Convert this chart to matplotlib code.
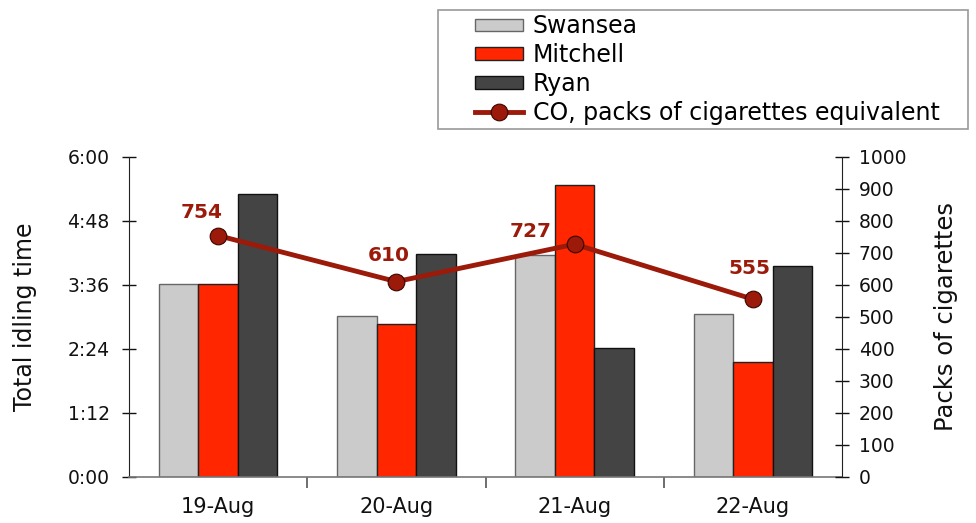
import matplotlib
matplotlib.use("Agg")
import matplotlib.pyplot as plt
import numpy as np
from matplotlib.ticker import FixedLocator, FuncFormatter
from matplotlib.patches import Rectangle

plt.rcParams['font.family'] = ['DejaVu Sans']

categories = ["19-Aug", "20-Aug", "21-Aug", "22-Aug"]
# idling time in minutes
swansea = [217, 181, 250, 183]
mitchell = [217, 172, 329, 129]
ryan = [318, 251, 145, 237]
co_packs = [754, 610, 727, 555]
label_offsets = [(-16, 23), (-8, 26), (-44, 13), (-3, 31)]

fig = plt.figure(figsize=(9.76, 5.23), dpi=100)
ax = fig.add_axes([129/976, 1 - 476.5/523, (842-129)/976, (476.5-157)/523])
ax2 = ax.twinx()

x = np.arange(len(categories))
w = 0.222
ax.bar(x - w, swansea, w, color="#CBCBCB", edgecolor="#666666", linewidth=1.0, label="Swansea", zorder=2)
ax.bar(x, mitchell, w, color="#FF2600", edgecolor="#222222", linewidth=1.0, label="Mitchell", zorder=2)
ax.bar(x + w, ryan, w, color="#444444", edgecolor="#111111", linewidth=1.0, label="Ryan", zorder=2)

ax.set_xlim(-0.5, len(categories) - 0.5)
ax.set_ylim(0, 360)
ax.yaxis.set_major_locator(FixedLocator([0, 72, 144, 216, 288, 360]))
ax.yaxis.set_major_formatter(FuncFormatter(lambda v, p: f"{int(v)//60}:{int(v)%60:02d}"))
ax.set_xticks(x)
ax.set_xticklabels(categories)
ax.set_xticks(np.arange(0.5, len(categories) - 0.5, 1), minor=True)
ax.tick_params(axis='x', which='major', length=0, pad=15, labelsize=15, colors="#111111")
ax.tick_params(axis='x', which='minor', length=8, direction='out', color="#555555", width=1.2)
ax.tick_params(axis='y', length=10, direction='inout', width=1, labelsize=13.5, pad=9, colors="#111111")
ax.set_ylabel("Total idling time", fontsize=17, labelpad=22, color="#111111")

for s in ["top", "right"]:
    ax.spines[s].set_visible(False)
ax.spines["bottom"].set_color("#777777")
ax.spines["bottom"].set_linewidth(1.2)
ax.spines["left"].set_color("#222222")

ln, = ax2.plot(x, co_packs, color="#9B1A0A", linewidth=3.5, marker="o", markersize=12,
               markerfacecolor="#9B1A0A", markeredgecolor="#3a0500", markeredgewidth=0.8,
               label="CO, packs of cigarettes equivalent", zorder=5)
ax2.set_ylim(0, 1000)
ax2.set_yticks(np.arange(0, 1001, 100))
ax2.tick_params(axis='y', length=10, direction='inout', width=1, labelsize=13.5, pad=7, colors="#111111")
for s in ["top", "left", "bottom"]:
    ax2.spines[s].set_visible(False)
ax2.spines["right"].set_color("#222222")
ax2.set_ylabel("Packs of cigarettes", fontsize=17.5, labelpad=20, color="#111111")

for xi, v, (dx, dy) in zip(x, co_packs, label_offsets):
    ax2.annotate(str(v), (xi, v), xytext=(dx, dy), textcoords="offset pixels",
                 ha="center", va="center", fontsize=14.5, fontweight="bold", color="#9B1A0A")

# legend frame
fig.patches.append(Rectangle((438/976, 1 - 129/523), (968-438)/976, (129-10)/523,
                             transform=fig.transFigure, facecolor="white",
                             edgecolor="#999999", linewidth=1.2, zorder=0))

handles = ax.get_legend_handles_labels()[0] + [ln]
labels = ["Swansea", "Mitchell", "Ryan", "CO, packs of cigarettes equivalent"]
leg = fig.legend(handles, labels, loc="center left", bbox_to_anchor=(475/976, 1 - 69.5/523),
                 frameon=False, fontsize=17, handlelength=2.05, handleheight=0.45,
                 labelspacing=0.2, borderpad=0.0, handletextpad=0.4, borderaxespad=0)

fig.savefig("out.png", dpi=100)
